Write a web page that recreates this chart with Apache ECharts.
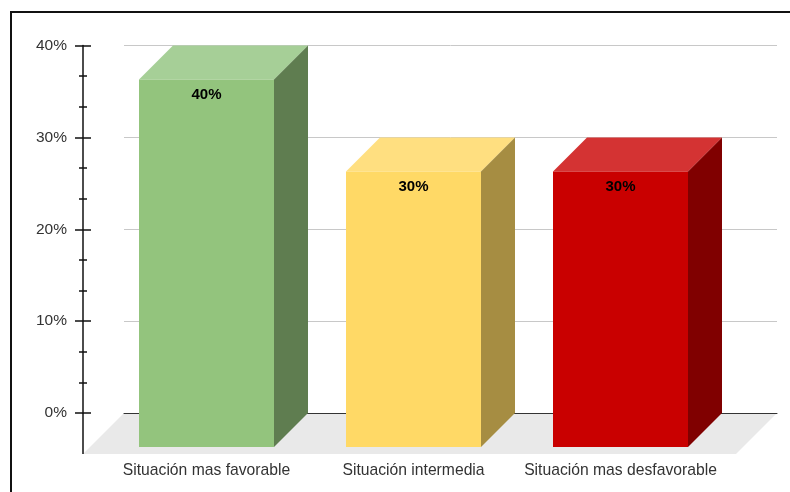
<!DOCTYPE html>
<html>
<head>
<meta charset="utf-8">
<style>
	html, body { margin: 0; padding: 0; background: #fff; overflow: hidden; }
	#chart { position: absolute; left: 0; top: 0; width: 790px; height: 492px; }
	#frame { position: absolute; left: 10px; top: 11px; width: 790px; height: 490px; border-left: 2px solid #111; border-top: 2px solid #111; }
</style>
</head>
<body>
<div id="chart"></div>
<div id="frame"></div>
<script src="https://cdn.jsdelivr.net/npm/echarts@6/dist/echarts.min.js"></script>
<script>
var categories = ['Situación mas favorable', 'Situación intermedia', 'Situación mas desfavorable'];
var values = [40, 30, 30];
var frontColors = ['#93c47d', '#ffd966', '#c90000'];
var topColors = ['#a6cf97', '#ffdf80', '#d43333'];
var sideColors = ['#5f7d50', '#a68d42', '#800000'];

var FONT = '"Liberation Sans", Arial, sans-serif';
var DEPTH = 34;       //bar depth in px
var FLOOR_DEPTH = 41; //floor depth in px

//each bar is a front face, a top and a side; the value is read on the back wall
function renderBar(params, api) {
	var i = api.value(0);
	var back = api.coord([i, api.value(1)]);
	var base = api.coord([i, 0]);
	var half = api.size([1, 0])[0] * 135 / 207 / 2;
	var left = back[0] - half, right = back[0] + half;
	var top = back[1] + DEPTH, bottom = base[1] + DEPTH;
	return {
		type: 'group',
		children: [{
			type: 'polygon',
			shape: { points: [[left, top], [left + DEPTH, back[1]], [right + DEPTH, back[1]], [right, top]] },
			style: { fill: topColors[i] }
		}, {
			type: 'polygon',
			shape: { points: [[right, top], [right + DEPTH, back[1]], [right + DEPTH, base[1]], [right, bottom]] },
			style: { fill: sideColors[i] }
		}, {
			type: 'rect',
			shape: { x: left, y: top, width: right - left, height: bottom - top },
			style: { fill: frontColors[i] }
		}, {
			type: 'text',
			x: back[0],
			y: top + 15,
			style: {
				text: api.value(1) + '%',
				fill: '#000',
				font: 'bold 15px ' + FONT,
				align: 'center',
				verticalAlign: 'middle'
			}
		}]
	};
}

//floor under the bars plus the piece of axis line that runs down to it
function renderFloor(params, api) {
	var y = api.coord([0, 0])[1];
	return {
		type: 'group',
		children: [{
			type: 'polygon',
			shape: { points: [[124, y], [777, y], [777 - FLOOR_DEPTH, y + FLOOR_DEPTH], [83, y + FLOOR_DEPTH]] },
			style: { fill: '#e9e9e9' }
		}, {
			type: 'line',
			shape: { x1: 83, y1: y, x2: 83, y2: y + FLOOR_DEPTH },
			style: { stroke: '#111', lineWidth: 1.5 }
		}]
	};
}

var barData = [];
for (var a = 0; a < values.length; a++) {
	barData.push([a, values[a]]);
}

var myChart = echarts.init(document.getElementById('chart'));
myChart.setOption({
	animation: false,
	grid: [
		{ left: 124, width: 653, top: 45, height: 368 }, //back wall
		{ left: 103, width: 621, top: 45.5, height: 367.5 }  //bars and labels
	],
	xAxis: [{
		gridIndex: 0,
		type: 'value',
		min: 0,
		max: 1,
		z: 2,
		axisLine: { show: true, lineStyle: { color: '#333', width: 1 } },
		axisTick: { show: false },
		axisLabel: { show: false },
		splitLine: { show: false }
	}, {
		gridIndex: 1,
		type: 'category',
		data: categories,
		axisLine: { show: false },
		axisTick: { show: false },
		axisLabel: { interval: 0, margin: 50, fontFamily: FONT, fontSize: 15.7, color: '#333' }
	}],
	yAxis: [{
		gridIndex: 0,
		min: 0,
		max: 40,
		interval: 10,
		axisLine: { show: false },
		axisTick: { show: false },
		axisLabel: { show: false },
		splitLine: { lineStyle: { color: '#c8c8c8', width: 1 } }
	}, {
		gridIndex: 1,
		position: 'left',
		offset: 20,
		min: 0,
		max: 40,
		interval: 10,
		axisLine: { show: true, lineStyle: { color: '#111', width: 1.5 } },
		axisTick: { show: true, length: 8, lineStyle: { color: '#111', width: 1.5 } },
		minorTick: { show: true, splitNumber: 3, length: 4, lineStyle: { color: '#111', width: 1.5 } },
		axisLabel: { margin: 16, fontFamily: FONT, fontSize: 15.5, color: '#333', formatter: '{value}%' },
		splitLine: { show: false }
	}, {
		//same axis again so the ticks cross the line
		gridIndex: 1,
		position: 'left',
		offset: 20,
		min: 0,
		max: 40,
		interval: 10,
		axisLine: { show: false },
		axisTick: { show: true, inside: true, length: 8, lineStyle: { color: '#111', width: 1.5 } },
		minorTick: { show: true, splitNumber: 3, length: 4, lineStyle: { color: '#111', width: 1.5 } },
		axisLabel: { show: false },
		splitLine: { show: false }
	}],
	series: [{
		type: 'custom',
		xAxisIndex: 1,
		yAxisIndex: 1,
		z: 1,
		silent: true,
		renderItem: renderFloor,
		data: [[0, 0]]
	}, {
		type: 'custom',
		xAxisIndex: 1,
		yAxisIndex: 1,
		z: 3,
		renderItem: renderBar,
		data: barData
	}]
});
</script>
</body>
</html>
